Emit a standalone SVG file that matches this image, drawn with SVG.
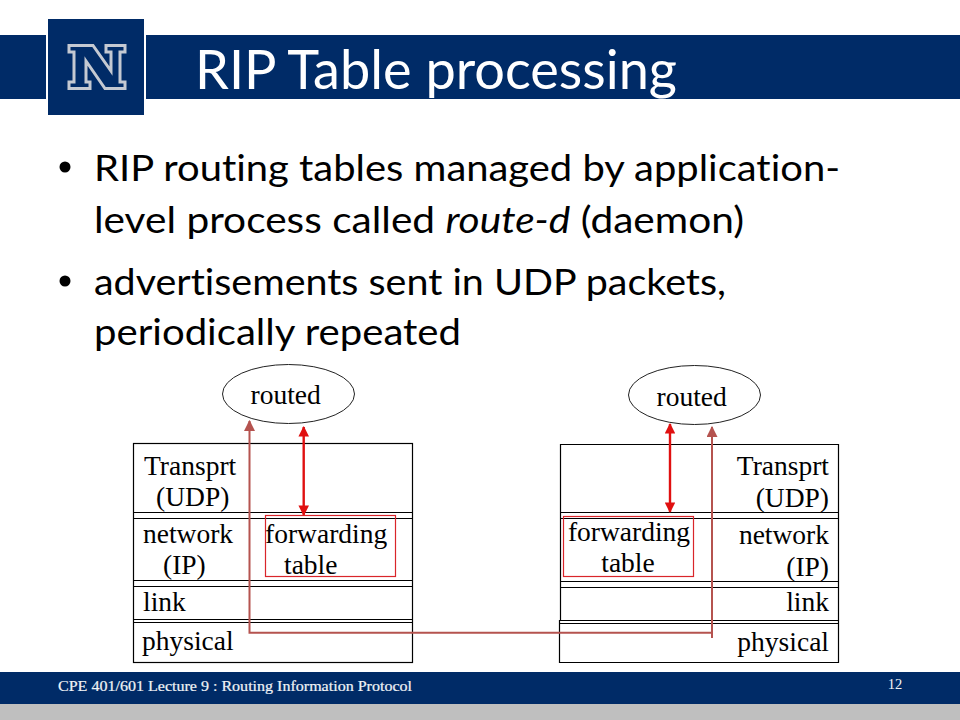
<svg xmlns="http://www.w3.org/2000/svg" width="960" height="720" viewBox="0 0 960 720">
<defs>
<style>
.s{font-family:"Liberation Serif","Times New Roman",serif;font-size:27.5px;fill:#000}
.b{font-family:Lato,"Open Sans",sans-serif;font-size:36px;fill:#000;font-variant-ligatures:none}
.box{fill:none;stroke:#000;stroke-width:1.2}
.red{fill:none;stroke:#d9252a;stroke-width:1.2}
.ar{fill:none;stroke:#e01010;stroke-width:2.4}
.br{fill:none;stroke:#b5534f;stroke-width:2}
</style>
<marker id="mr" viewBox="0 0 10 10" refX="9" refY="5" markerWidth="4.4" markerHeight="4.4" orient="auto-start-reverse"><path d="M0 0L10 5L0 10Z" fill="#e01010"/></marker>
<marker id="mb" viewBox="0 0 10 10" refX="9" refY="5" markerWidth="5.5" markerHeight="5.5" orient="auto"><path d="M0 0L10 5L0 10Z" fill="#b5534f"/></marker>
</defs>
<rect width="960" height="720" fill="#fff"/>
<g id="header">
<rect x="0" y="35" width="46" height="64" fill="#002b67"/>
<rect x="146" y="35" width="814" height="64" fill="#002b67"/>
<rect x="48" y="19" width="96" height="96" fill="#002b67"/>
<path d="M69 45.500H93L111 71V52H106V45.500H125V52H120V82H125V88.500H105L86 61V82H90V88.500H69V82H74V52H69Z" fill="none" stroke="#c4c9d2" stroke-width="3"/>
<text x="195" y="89" font-family="Lato,'Open Sans',sans-serif" font-size="54" fill="#fff" style="font-variant-ligatures:none" textLength="482" lengthAdjust="spacingAndGlyphs">RIP Table processing</text>
</g>
<g id="bullets">
<circle cx="65" cy="167" r="5.500" fill="#000"/>
<text class="b" x="94" y="181" textLength="746" lengthAdjust="spacingAndGlyphs">RIP routing tables managed by application-</text>
<text class="b" x="94" y="233" textLength="650" lengthAdjust="spacingAndGlyphs">level process called <tspan font-style="italic">route-d</tspan> (daemon)</text>
<circle cx="65" cy="281" r="5.500" fill="#000"/>
<text class="b" x="94" y="295" textLength="632" lengthAdjust="spacingAndGlyphs">advertisements sent in UDP packets,</text>
<text class="b" x="94" y="345" textLength="367" lengthAdjust="spacingAndGlyphs">periodically repeated</text>
</g>
<g id="left-stack">
<rect class="box" x="133.500" y="443.500" width="279" height="219"/>
<path class="box" d="M133.500 512.500H412.500M133.500 518.500H412.500M133.500 580.500H412.500M133.500 586.500H412.500M133.500 619.500H412.500M133.500 622.500H412.500"/>
<text class="s" x="144" y="475">Transprt</text>
<text class="s" x="156" y="506">(UDP)</text>
<text class="s" x="143" y="543">network</text>
<text class="s" x="163" y="574">(IP)</text>
<text class="s" x="143" y="611">link</text>
<text class="s" x="142" y="650">physical</text>
</g>
<g id="left-forwarding">
<rect class="red" x="265.500" y="515.500" width="130" height="61"/>
<text class="s" x="265" y="543">forwarding</text>
<text class="s" x="284" y="574">table</text>
</g>
<g id="left-routed">
<ellipse cx="288.500" cy="394" rx="66" ry="29.500" fill="#fff" stroke="#222" stroke-width="1"/>
<text class="s" x="250.500" y="404">routed</text>
</g>
<g id="right-stack">
<path class="box" d="M560.500 620.500V444.500H838.500V662.500H559.500V620.500H838.500M560.500 512.500H838.500M560.500 518.500H838.500M560.500 581.500H838.500M560.500 587.500H838.500M559.500 623.500H838.500"/>
<text class="s" x="829" y="475" text-anchor="end">Transprt</text>
<text class="s" x="829" y="507" text-anchor="end">(UDP)</text>
<text class="s" x="829" y="544" text-anchor="end">network</text>
<text class="s" x="829" y="576" text-anchor="end">(IP)</text>
<text class="s" x="829" y="611" text-anchor="end">link</text>
<text class="s" x="829" y="651" text-anchor="end">physical</text>
</g>
<g id="right-forwarding">
<rect class="red" x="563.500" y="516.500" width="130" height="60"/>
<text class="s" x="629" y="541" text-anchor="middle">forwarding</text>
<text class="s" x="628" y="572" text-anchor="middle">table</text>
</g>
<g id="right-routed">
<ellipse cx="694.500" cy="395" rx="66" ry="29.500" fill="#fff" stroke="#222" stroke-width="1"/>
<text class="s" x="656.500" y="406">routed</text>
</g>
<g id="connectors">
<path class="ar" d="M303.700 427V515" marker-start="url(#mr)" marker-end="url(#mr)"/>
<path class="ar" d="M670 424V512" marker-start="url(#mr)" marker-end="url(#mr)"/>
<path class="br" d="M712 638V632.700H249.500V421" marker-end="url(#mb)"/>
<path class="br" d="M712 638V427" marker-end="url(#mb)"/>
</g>
<g id="footer">
<rect x="0" y="672" width="960" height="32" fill="#002b67"/>
<rect x="0" y="704" width="960" height="16" fill="#bfbfbf"/>
<text x="58" y="691" font-family="'Liberation Serif',serif" font-size="14.500" fill="#f0f3f6" stroke="#f0f3f6" stroke-width="0.2" textLength="354" lengthAdjust="spacingAndGlyphs">CPE 401/601 Lecture 9 : Routing Information Protocol</text>
<text x="895" y="689" font-family="'Liberation Serif',serif" font-size="14.500" fill="#f0f3f6" text-anchor="middle">12</text>
</g>
</svg>
